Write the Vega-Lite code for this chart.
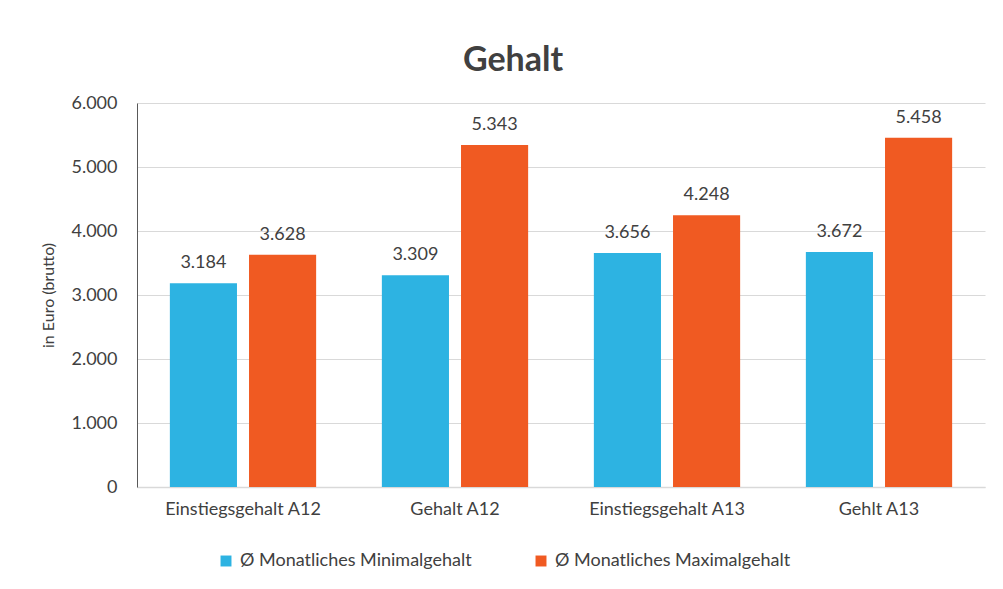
{
  "$schema": "https://vega.github.io/schema/vega-lite/v6.json",
  "autosize": {"type": "none"},
  "width": 848,
  "height": 384,
  "padding": {"left": 137, "top": 103, "right": 18, "bottom": 102},
  "background": "white",
  "config": {
    "font": "Lato",
    "locale": {"number": {"decimal": ",", "thousands": ".", "grouping": [3], "currency": ["", " €"]}},
    "view": {"stroke": null}
  },
  "title": {"text": "Gehalt", "fontSize": 34, "fontWeight": "bold", "color": "#404040", "anchor": "middle", "dx": -48, "offset": 16, "font": "Lato"},
  "data": {"values": [
    {"kategorie": "Einstiegsgehalt A12", "serie": "Ø Monatliches Minimalgehalt", "wert": 3184},
    {"kategorie": "Einstiegsgehalt A12", "serie": "Ø Monatliches Maximalgehalt", "wert": 3628},
    {"kategorie": "Gehalt A12", "serie": "Ø Monatliches Minimalgehalt", "wert": 3309},
    {"kategorie": "Gehalt A12", "serie": "Ø Monatliches Maximalgehalt", "wert": 5343},
    {"kategorie": "Einstiegsgehalt A13", "serie": "Ø Monatliches Minimalgehalt", "wert": 3656},
    {"kategorie": "Einstiegsgehalt A13", "serie": "Ø Monatliches Maximalgehalt", "wert": 4248},
    {"kategorie": "Gehlt A13", "serie": "Ø Monatliches Minimalgehalt", "wert": 3672},
    {"kategorie": "Gehlt A13", "serie": "Ø Monatliches Maximalgehalt", "wert": 5458}
  ]},
  "encoding": {
    "x": {"field": "kategorie", "type": "nominal", "sort": null,
      "scale": {"paddingInner": 0.31, "paddingOuter": 0.155},
      "axis": {"title": null, "labelAngle": 0, "labelFontSize": 18, "labelColor": "#404040", "labelPadding": 13, "ticks": false, "domainColor": "#d9d9d9", "domainWidth": 1.5}},
    "xOffset": {"field": "serie", "type": "nominal", "sort": ["Ø Monatliches Minimalgehalt", "Ø Monatliches Maximalgehalt"], "scale": {"paddingInner": 0.152}},
    "y": {"field": "wert", "type": "quantitative",
      "scale": {"domain": [0, 6000]},
      "axis": {"title": "in Euro (brutto)", "titleFontSize": 16, "titleFontWeight": "normal", "titleColor": "#404040", "titlePadding": 14, "format": ",d", "values": [0, 1000, 2000, 3000, 4000, 5000, 6000], "labelFontSize": 18, "labelColor": "#404040", "labelPadding": 20, "ticks": false, "domain": true, "domainColor": "#595959", "gridColor": "#d9d9d9", "grid": true}}
  },
  "layer": [
    {
      "mark": {"type": "bar"},
      "encoding": {
        "color": {"field": "serie", "type": "nominal", "sort": ["Ø Monatliches Minimalgehalt", "Ø Monatliches Maximalgehalt"],
          "scale": {"range": ["#2DB3E2", "#F05A22"]},
          "legend": {"title": null, "orient": "none", "legendX": 80, "legendY": 449, "direction": "horizontal", "symbolType": "square", "symbolSize": 120, "symbolStrokeWidth": 0, "labelFontSize": 18, "labelColor": "#404040", "columnPadding": 60, "labelOffset": 5, "labelLimit": 400}}
      }
    },
    {
      "mark": {"type": "text", "baseline": "bottom", "dy": -11, "fontSize": 18, "color": "#404040"},
      "encoding": {"text": {"field": "wert", "type": "quantitative", "format": ",d"}}
    }
  ]
}
